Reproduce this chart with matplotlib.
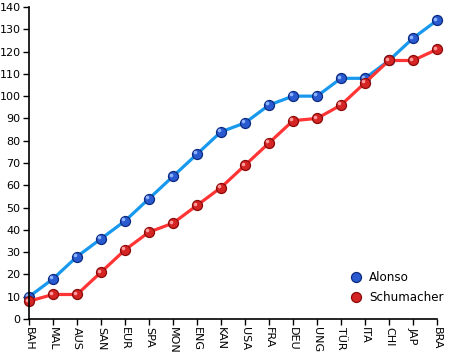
import matplotlib
matplotlib.use("Agg")
import matplotlib.pyplot as plt
import matplotlib.transforms as mtransforms

races = ["BAH", "MAL", "AUS", "SAN", "EUR", "SPA", "MON", "ENG", "KAN", "USA",
         "FRA", "DEU", "UNG", "TÜR", "ITA", "CHI", "JAP", "BRA"]
alonso = [10, 18, 28, 36, 44, 54, 64, 74, 84, 88, 96, 100, 100, 108, 108, 116, 126, 134]
schumacher = [8, 11, 11, 21, 31, 39, 43, 51, 59, 69, 79, 89, 90, 96, 106, 116, 116, 121]
y_ticks = list(range(0, 141, 10))

plt.rcParams['font.family'] = ['DejaVu Sans']
fig = plt.figure(figsize=(4.49, 3.57), dpi=100)
ax = fig.add_axes([29/449, 1-319/357, (437-29)/449, (319-7)/357])

x = list(range(len(races)))

def sphere_series(vals, line_c, dark, mid, light, label, z):
    ax.plot(x, vals, color=line_c, lw=2.3, zorder=z, solid_capstyle='round')
    ax.plot(x, vals, ls='none', marker='o', ms=7.2, mfc=mid, mec=dark, mew=0.9, zorder=z+1, label=label)
    off = mtransforms.offset_copy(ax.transData, fig=fig, x=-1.2, y=1.2, units='points')
    ax.plot(x, vals, ls='none', marker='o', ms=2.6, mfc=light, mec='none', zorder=z+2, transform=off)

sphere_series(alonso, '#1899ee', '#0c2a80', '#2a5ad0', '#8fb4ff', 'Alonso', 3)
sphere_series(schumacher, '#ff3535', '#8a0a0a', '#d42424', '#ff9a9a', 'Schumacher', 6)

ax.set_xlim(0, len(races) - 1)
ax.set_ylim(0, 140)
ax.set_yticks(y_ticks)
ax.set_xticks(x)
ax.set_xticklabels(races, rotation=-90, fontsize=8)
ax.tick_params(axis='y', labelsize=8, length=4, width=1, direction='out', pad=2)
ax.tick_params(axis='x', length=4, width=1, direction='out', pad=2)
for s in ['top', 'right']:
    ax.spines[s].set_visible(False)
for s in ['left', 'bottom']:
    ax.spines[s].set_linewidth(1.2)
ax.spines['left'].set_zorder(10)
ax.spines['bottom'].set_zorder(10)
for line in ax.lines:
    line.set_clip_on(False)

h, l = ax.get_legend_handles_labels()
ax.legend(h, l, loc='lower left',
          bbox_to_anchor=(351/449, 1-304/357), bbox_transform=fig.transFigure,
          borderaxespad=0, borderpad=0, frameon=False, fontsize=8.6,
          handlelength=0.8, handletextpad=0.7, labelspacing=0.55)

fig.savefig("out.png", dpi=100)
